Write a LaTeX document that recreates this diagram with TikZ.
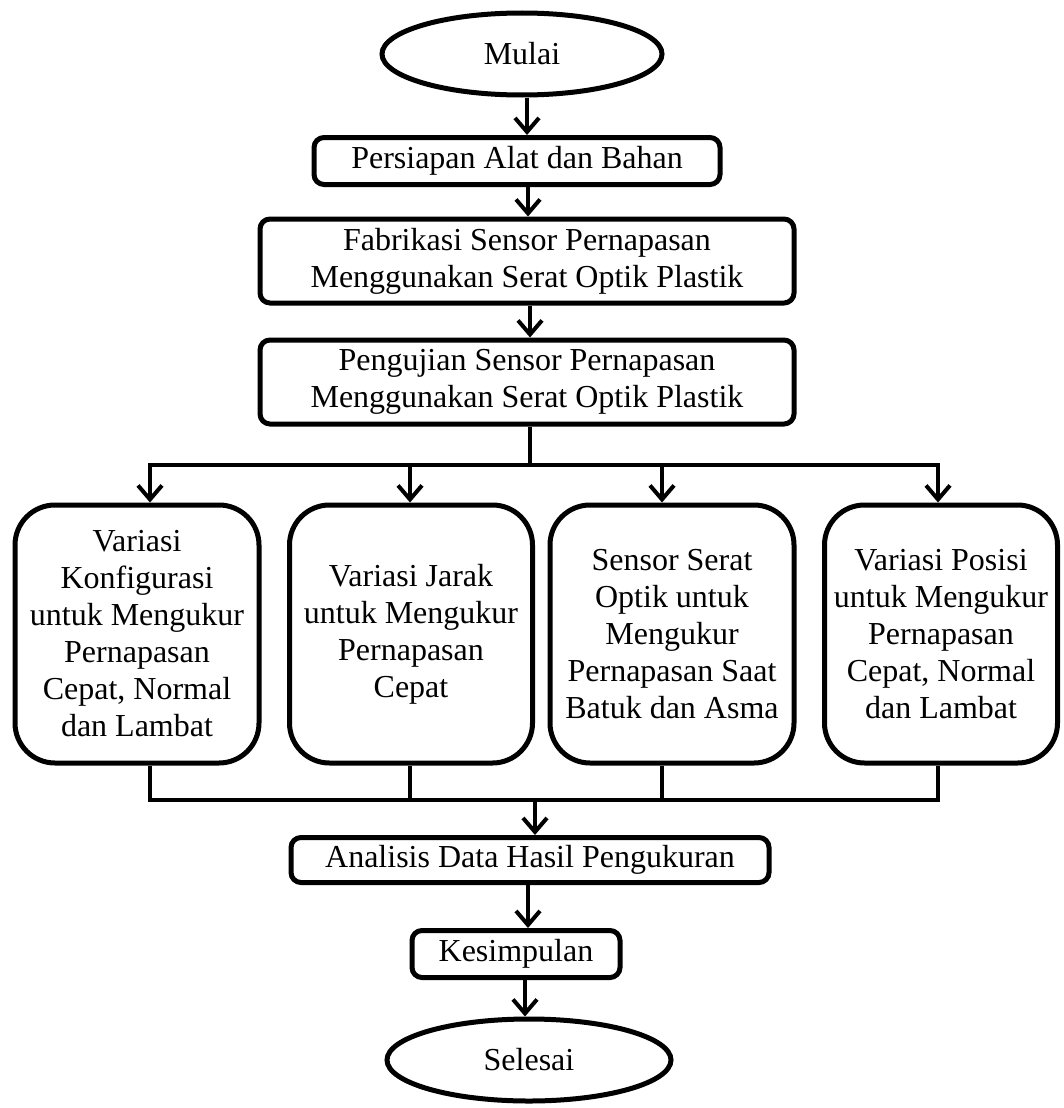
\documentclass[tikz,border=0pt]{standalone}
\usepackage{fontspec}
\setmainfont{Liberation Serif}
\usetikzlibrary{arrows.meta,shapes.geometric}
\begin{document}
\begin{tikzpicture}[x=1pt,y=-1pt,
  every node/.style={font=\fontsize{32}{37}\selectfont, inner sep=0pt, align=center},
  box/.style={draw, line width=5pt, rounded corners=10pt},
  rbox/.style={draw, line width=5pt, rounded corners=40pt, minimum width=244pt, minimum height=258pt},
  term/.style={draw, ellipse, line width=5pt},
  ln/.style={line width=4pt},
  arr/.style={line width=4pt, -{Straight Barb[length=14pt,width=24pt,line width=4pt]}}]
\useasboundingbox (0,0) rectangle (1063,1108);

\node[term, minimum width=280pt, minimum height=82pt] (start) at (522,54) {Mulai};
\node[box, minimum width=406pt, minimum height=47pt] (prep) at (517,161) {Persiapan Alat dan Bahan};
\node[box, minimum width=534pt, minimum height=84pt] (fab) at (527,261) {Fabrikasi Sensor Pernapasan\\Menggunakan Serat Optik Plastik};
\node[box, minimum width=534pt, minimum height=84pt] (test) at (527,382) {Pengujian Sensor Pernapasan\\Menggunakan Serat Optik Plastik};

\node[rbox] (b1) at (137,634) {Variasi\\Konfigurasi\\untuk Mengukur\\Pernapasan\\Cepat, Normal\\dan Lambat};
\node[rbox, minimum width=243pt] (b2) at (411,634) {Variasi Jarak\\untuk Mengukur\\Pernapasan\\Cepat};
\node[rbox] (b3) at (672,634) {Sensor Serat\\Optik untuk\\Mengukur\\Pernapasan Saat\\Batuk dan Asma};
\node[rbox, minimum width=233pt] (b4) at (941,634) {Variasi Posisi\\untuk Mengukur\\Pernapasan\\Cepat, Normal\\dan Lambat};

\node[box, minimum width=478pt, minimum height=45pt] (ana) at (530,860) {Analisis Data Hasil Pengukuran};
\node[box, minimum width=208pt, minimum height=47pt] (kes) at (516,954) {Kesimpulan};
\node[term, minimum width=284pt, minimum height=82pt] (end) at (529,1060) {Selesai};

\coordinate (t0) at (530,465);
\coordinate (t1) at (150,465);
\coordinate (t2) at (410,465);
\coordinate (t3) at (662,465);
\coordinate (t4) at (938,465);
\coordinate (u1) at (150,800);
\coordinate (u2) at (410,800);
\coordinate (u3) at (662,800);
\coordinate (u4) at (938,800);
\coordinate (u0) at (535,800);

\draw[arr] (start.south -| 527,0) -- (prep.north -| 527,0);
\draw[arr] (prep.south -| 528,0) -- (fab.north -| 528,0);
\draw[arr] (fab.south -| 530,0) -- (test.north -| 530,0);
\draw[ln] (test.south -| t0) -- (t0);
\draw[ln, line cap=rect] (t1) -- (t4);
\draw[arr] (t1) -- (t1 |- b1.north);
\draw[arr] (t2) -- (t2 |- b2.north);
\draw[arr] (t3) -- (t3 |- b3.north);
\draw[arr] (t4) -- (t4 |- b4.north);

\draw[ln] (u1 |- b1.south) -- (u1);
\draw[ln] (u2 |- b2.south) -- (u2);
\draw[ln] (u3 |- b3.south) -- (u3);
\draw[ln] (u4 |- b4.south) -- (u4);
\draw[ln, line cap=rect] (u1) -- (u4);
\draw[arr] (u0) -- (u0 |- ana.north);

\draw[arr] (ana.south -| 528,0) -- (kes.north -| 528,0);
\draw[arr] (kes.south -| 525,0) -- (end.north -| 525,0);
\end{tikzpicture}
\end{document}
